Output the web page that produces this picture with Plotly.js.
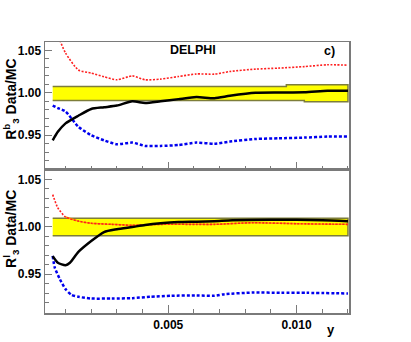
<!DOCTYPE html>
<html>
<head>
<meta charset="utf-8">
<script src="https://cdn.plot.ly/plotly-3.0.1.min.js"></script>
<style>
  html, body { margin: 0; padding: 0; background: #fff; }
  #chart { width: 411px; height: 342px; }
</style>
</head>
<body>
<div id="chart"></div>
<script>
// upper panel: R3^b Data/MC
const topX = [0.0005, 0.0007, 0.001, 0.0015, 0.002, 0.0025, 0.003, 0.0036, 0.0041, 0.0047, 0.0054, 0.0061, 0.0068, 0.0074, 0.0084, 0.0093, 0.0103, 0.0112, 0.012];
const topBlack = [0.944, 0.954, 0.964, 0.973, 0.981, 0.983, 0.985, 0.990, 0.988, 0.990, 0.9926, 0.995, 0.9937, 0.9965, 1.000, 1.0004, 1.0006, 1.0024, 1.0024];
const topRed   = [1.085, 1.068, 1.047, 1.027, 1.0233, 1.019, 1.0154, 1.020, 1.0154, 1.0162, 1.0193, 1.0223, 1.0221, 1.0252, 1.028, 1.0292, 1.031, 1.0331, 1.0327];
const topBlue  = [0.985, 0.982, 0.978, 0.960, 0.950, 0.944, 0.9394, 0.9413, 0.9374, 0.9374, 0.9385, 0.9413, 0.940, 0.9425, 0.9456, 0.9464, 0.9472, 0.9484, 0.9484];

// systematic band, upper panel (step edges)
const topBandUpX = [0.0005, 0.0096, 0.0096, 0.012];
const topBandUp  = [1.0075, 1.0075, 1.0095, 1.0095];
const topBandLoX = [0.0005, 0.0103, 0.0103, 0.012];
const topBandLo  = [0.991, 0.991, 0.9895, 0.9895];

// lower panel: R3^l Data/MC
const lowBlackX = [0.0005, 0.0007, 0.001, 0.00117, 0.0015, 0.002, 0.0025, 0.003, 0.0036, 0.0041, 0.0047, 0.0054, 0.0061, 0.0068, 0.0075, 0.009, 0.011, 0.012];
const lowBlack  = [0.969, 0.962, 0.9595, 0.962, 0.9735, 0.985, 0.9945, 0.9974, 0.9998, 1.0019, 1.0037, 1.005, 1.0054, 1.006, 1.007, 1.0075, 1.007, 1.006];
const lowRedX = [0.0005, 0.0007, 0.001, 0.0015, 0.002, 0.0028, 0.0036, 0.0047, 0.0061, 0.0068, 0.0083, 0.010, 0.0114, 0.012];
const lowRed  = [1.034, 1.020, 1.0103, 1.006, 1.0037, 1.0026, 1.0016, 1.0026, 1.0026, 1.0026, 1.0043, 1.0033, 1.0028, 1.0026];
const lowBlueX = [0.0005, 0.00058, 0.00078, 0.001, 0.00123, 0.0015, 0.002, 0.0028, 0.0036, 0.0043, 0.0051, 0.0061, 0.0068, 0.0072, 0.0083, 0.0094, 0.0104, 0.012];
const lowBlue  = [0.9693, 0.957, 0.9447, 0.9342, 0.9282, 0.9261, 0.9243, 0.9243, 0.9247, 0.9261, 0.9272, 0.9275, 0.9272, 0.9289, 0.9306, 0.9303, 0.9303, 0.9296];

const lowBandX = [0.0005, 0.012];
const lowBandUp = [1.009, 1.009];
const lowBandLo = [0.9905, 0.9905];

const yTicks = [0.95, 1.00, 1.05];
const yTickText = ['0.95', '1.00', '1.05'];
const xTicks = [0.005, 0.010];
const xTickText = ['0.005', '0.010'];

const FONT = 'Liberation Sans, Arial, sans-serif';
const FRAME = '#7a7a7a';

function band(upX, up, loX, lo, yax) {
  return {
    x: upX.concat(loX.slice().reverse()),
    y: up.concat(lo.slice().reverse()),
    xaxis: yax === 'y2' ? 'x2' : 'x', yaxis: yax,
    mode: 'lines', fill: 'toself', fillcolor: '#ffff00',
    line: {color: '#7d7d3a', width: 1.5},
    hoverinfo: 'skip'
  };
}

function curve(x, y, yax, color, width, dash) {
  return {
    x: x, y: y,
    xaxis: yax === 'y2' ? 'x2' : 'x', yaxis: yax,
    mode: 'lines',
    line: {color: color, width: width, dash: dash, shape: 'spline', smoothing: 0.6}
  };
}

const orangeIdx = lowRedX.map((v, i) => i).filter(i => lowRedX[i] >= 0.001);

const traces = [
  band(topBandUpX, topBandUp, topBandLoX, topBandLo, 'y2'),
  curve(topX, topBlue, 'y2', '#0000ee', 2.5, '3px,2px'),
  curve(topX, topRed, 'y2', '#ff2020', 1.6, '2px,1.5px'),
  curve(topX, topBlack, 'y2', '#000000', 2.5, 'solid'),

  band(lowBandX, lowBandUp, lowBandX, lowBandLo, 'y'),
  curve(lowBlueX, lowBlue, 'y', '#0000ee', 2.5, '3px,2px'),
  curve(orangeIdx.map(i => lowRedX[i]), orangeIdx.map(i => lowRed[i]), 'y', '#ff9a00', 1.5, 'solid'),
  curve(lowRedX, lowRed, 'y', '#ff2020', 1.6, '2px,1.5px'),
  curve(lowBlackX, lowBlack, 'y', '#000000', 2.5, 'solid')
];

const xBase = {
  range: [0.0002, 0.01204],
  showline: true, mirror: true, linecolor: FRAME, linewidth: 1.5,
  showgrid: false, zeroline: false,
  ticks: 'inside', ticklen: 8, tickwidth: 1, tickcolor: FRAME,
  tickmode: 'array', tickvals: xTicks,
  minor: {tick0: 0, dtick: 0.001, ticks: 'inside', ticklen: 4, tickcolor: FRAME, tickwidth: 1}
};

const yBase = {
  range: [0.909, 1.06],
  showline: true, mirror: true, linecolor: FRAME, linewidth: 1.5,
  showgrid: false, zeroline: false,
  ticks: 'inside', ticklen: 7, tickwidth: 1, tickcolor: FRAME,
  tickmode: 'array', tickvals: yTicks, ticktext: yTickText,
  tickfont: {family: FONT, size: 12, color: '#000', weight: 'bold'},
  minor: {tick0: 0.9, dtick: 0.01, ticks: 'inside', ticklen: 4, tickcolor: FRAME, tickwidth: 1}
};

const layout = {
  width: 411, height: 342,
  margin: {l: 45, r: 62, t: 42, b: 29},
  paper_bgcolor: '#fff', plot_bgcolor: '#fff',
  showlegend: false,
  font: {family: FONT, color: '#000'},
  xaxis: Object.assign({}, xBase, {
    anchor: 'y', ticktext: xTickText,
    tickfont: {family: FONT, size: 12, color: '#000', weight: 'bold'}
  }),
  xaxis2: Object.assign({}, xBase, {anchor: 'y2', matches: 'x', showticklabels: false}),
  yaxis: Object.assign({}, yBase, {domain: [0, 0.5277], anchor: 'x'}),
  yaxis2: Object.assign({}, yBase, {domain: [0.5277, 1], anchor: 'x2'}),
  annotations: [
    {text: '<b>DELPHI</b>', xref: 'paper', yref: 'paper', x: 0.488, y: 0.97,
     xanchor: 'center', yanchor: 'middle', showarrow: false, font: {size: 12.5}},
    {text: '<b>c)</b>', xref: 'paper', yref: 'paper', x: 0.936, y: 0.965,
     xanchor: 'center', yanchor: 'middle', showarrow: false, font: {size: 12.5}},
    {text: '<b>R<sup>b</sup><sub>3</sub> Data/MC</b>', xref: 'paper', yref: 'paper',
     x: -0.112, y: 0.79, xanchor: 'center', yanchor: 'middle', textangle: -90,
     showarrow: false, font: {size: 14}},
    {text: '<b>R<sup>l</sup><sub>3</sub> Data/MC</b>', xref: 'paper', yref: 'paper',
     x: -0.112, y: 0.31, xanchor: 'center', yanchor: 'middle', textangle: -90,
     showarrow: false, font: {size: 14}},
    {text: '<b>y</b>', xref: 'paper', yref: 'paper', x: 0.94, y: -0.06,
     xanchor: 'center', yanchor: 'middle', showarrow: false, font: {size: 13}}
  ]
};

Plotly.newPlot('chart', traces, layout, {displayModeBar: false, staticPlot: true});
</script>
</body>
</html>
